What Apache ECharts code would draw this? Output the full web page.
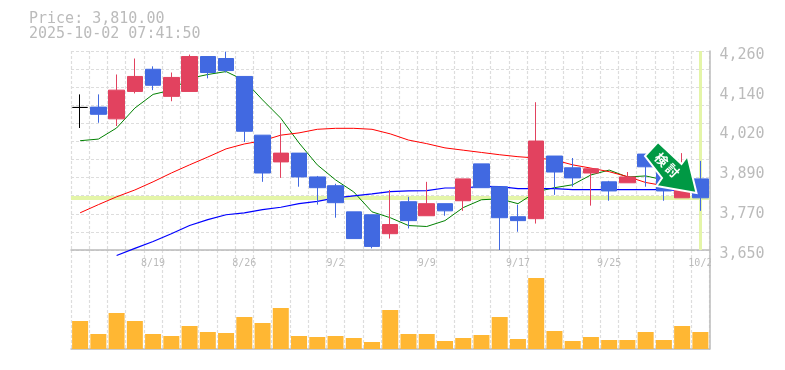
<!DOCTYPE html>
<html><head><meta charset="utf-8">
<style>html,body{margin:0;padding:0;background:#fff}#c{width:785px;height:370px}</style>
<script src="https://cdn.jsdelivr.net/npm/echarts@6/dist/echarts.min.js"></script>
</head><body><div id="c"></div>
<script>
const dates=['8/13','8/14','8/15','8/18','8/19','8/20','8/21','8/22','8/25','8/26','8/27','8/28','8/29','9/1','9/2','9/3','9/4','9/5','9/8','9/9','9/10','9/11','9/12','9/16','9/17','9/18','9/19','9/22','9/24','9/25','9/26','9/29','9/30','10/1','10/2'];
const shownDates=['8/19','8/26','9/2','9/9','9/17','9/25','10/2'];
const priceTickLabels=['3,650','3,770','3,890','4,020','4,140','4,260'];
const candles=[[4087,4087,4024,4127],[4088,4066,4040,4127],[4052,4140,4030,4188],[4136,4182,4130,4237],[4204,4155,4140,4213],[4121,4179,4106,4194],[4136,4243,4136,4249],[4243,4194,4176,4243],[4237,4200,4194,4258],[4182,4014,3981,4182],[4002,3886,3859,4002],[3920,3947,3871,4039],[3947,3874,3844,3947],[3874,3841,3789,3877],[3847,3795,3749,3853],[3767,3685,3685,3767],[3758,3661,3655,3758],[3700,3728,3685,3834],[3798,3740,3716,3813],[3755,3792,3755,3859],[3792,3770,3755,3792],[3801,3868,3770,3868],[3914,3841,3841,3914],[3844,3749,3650,3844],[3752,3740,3706,3789],[3746,3984,3731,4103],[3938,3889,3819,3938],[3902,3871,3844,3932],[3886,3899,3786,3899],[3859,3831,3801,3862],[3856,3874,3856,3889],[3944,3905,3844,3944],[3889,3831,3801,3895],[3810,3841,3810,3947],[3868,3810,3770,3923]];
const maShort=[3985,3990,4024,4085,4127,4140,4176,4188,4197,4170,4110,4054,3978,3911,3865,3828,3767,3749,3725,3722,3740,3780,3804,3807,3792,3828,3841,3850,3880,3895,3874,3877,3865,3856,3841];
const maMid=[3764,3789,3813,3834,3859,3886,3911,3935,3960,3975,3985,4002,4009,4020,4023,4023,4020,4006,3987,3976,3963,3956,3949,3942,3936,3932,3926,3911,3901,3890,3875,3857,3847,3838,3828];
const maLong=[null,null,3633,3655,3676,3700,3725,3743,3758,3764,3774,3781,3792,3799,3810,3816,3822,3829,3831,3832,3840,3840,3845,3844,3838,3838,3838,3835,3835,3835,3835,3835,3835,3832,3832];
const volumes=[28,15,36,28,15,13,23,17,16,32,26,41,13,12,13,11,7,39,15,15,8,11,14,32,10,71,18,8,12,9,9,17,9,23,17];
const lastPrice=3810, lastDate='10/2';
const priceText='Price: 3,810.00', timeText='2025-10-02 07:41:50', badgeChars=['検','討'];
const GREY='#bbbbbb', DASH='#dddddd', FONT='"DejaVu Sans Mono","Liberation Mono",monospace';
const chart=echarts.init(document.getElementById('c'),null,{renderer:'canvas'});
const L=71,W=638.5;
const dashLine={color:DASH,type:[3,2],width:1.2};
const dashed={show:true,interval:0,lineStyle:dashLine};
chart.setOption({
 animation:false,
 grid:[{left:L,top:51,width:W,height:199},{left:L,top:250,width:W,height:99}],
 xAxis:[
  {type:'category',gridIndex:0,data:dates,boundaryGap:true,position:'bottom',
   axisLine:{show:true,lineStyle:{color:GREY,width:1.5}},axisTick:{show:false},splitLine:dashed,
   axisLabel:{show:true,interval:0,margin:8,color:GREY,fontFamily:FONT,fontSize:10,hideOverlap:false,
     formatter:v=>shownDates.includes(v)?v:''}},
  {type:'category',gridIndex:1,data:dates,boundaryGap:true,
   axisLine:{show:true,lineStyle:{color:GREY,width:1.5}},axisTick:{show:false},splitLine:dashed,axisLabel:{show:false}}
 ],
 yAxis:[
  {type:'value',gridIndex:0,min:3650,max:4260,scale:true,axisLine:{show:false},axisTick:{show:false},axisLabel:{show:false},splitLine:{show:false}},
  {type:'value',gridIndex:0,position:'left',min:0,max:11,interval:1,axisLine:{show:false},axisTick:{show:false},axisLabel:{show:false},
   splitLine:{show:true,lineStyle:dashLine}},
  {type:'value',gridIndex:0,position:'right',min:0,max:5,interval:1,axisLine:{show:true,lineStyle:{color:GREY,width:1.5}},axisTick:{show:false},splitLine:{show:false},
   axisLabel:{margin:10,color:GREY,fontFamily:FONT,fontSize:15,verticalAlign:'top',lineHeight:8,formatter:(v)=>priceTickLabels[v]}},
  {type:'value',gridIndex:1,min:0,max:99,position:'right',axisLine:{show:true,lineStyle:{color:GREY,width:1.5}},axisTick:{show:false},axisLabel:{show:false},splitLine:{show:false}}
 ],
 series:[
  {type:'line',xAxisIndex:0,yAxisIndex:0,data:[],z:1,silent:true,
   markLine:{z:1,silent:true,symbol:'none',label:{show:false},animation:false,
    lineStyle:{color:'#e4f5a8',type:'solid'},
    data:[{yAxis:lastPrice,lineStyle:{width:4,color:'#e4f5a8',type:'solid'}},{xAxis:lastDate,lineStyle:{width:3,color:'#e4f5a8',type:'solid'}}]}},
  {name:'maShort',type:'line',xAxisIndex:0,yAxisIndex:0,data:maShort,showSymbol:false,z:2,clip:false,lineStyle:{color:'#008000',width:1}},
  {name:'maMid',type:'line',xAxisIndex:0,yAxisIndex:0,data:maMid,showSymbol:false,z:2,clip:false,lineStyle:{color:'#ff0000',width:1}},
  {name:'maLong',type:'line',xAxisIndex:0,yAxisIndex:0,data:maLong,showSymbol:false,z:2,clip:false,lineStyle:{color:'#0000ff',width:1.2}},
  {type:'candlestick',xAxisIndex:0,yAxisIndex:0,data:candles,barWidth:16,z:3,clip:false,
   itemStyle:{color:'#e2425f',color0:'#4169e1',borderColor:'#e2425f',borderColor0:'#4169e1',borderColorDoji:'#000000',borderWidth:1}},
  {type:'bar',xAxisIndex:1,yAxisIndex:3,data:volumes,barWidth:16,z:3,itemStyle:{color:'#ffb733'}}
 ],
 graphic:[
  {type:'rect',z:50,shape:{x:711,y:253,width:8,height:15},style:{fill:'#fff'}},
  {type:'text',z:51,left:29,top:12,style:{text:priceText,fill:GREY,font:'15px '+FONT}},
  {type:'text',z:51,left:29,top:27,style:{text:timeText,fill:GREY,font:'15px '+FONT}},
  {type:'polygon',z:60,shape:{points:[[658,142],[645,156],[662,178],[656.5,186],[696.5,193],[687.5,156],[681.5,164]]},
   style:{fill:'#009944',stroke:'#ffffff',lineWidth:2,lineJoin:'miter'}},
  {type:'text',z:61,x:661.5,y:159.5,rotation:-Math.PI/4,
   style:{text:badgeChars[0],fill:'#ffffff',font:'bold 13px "Noto Sans CJK JP"',align:'center',verticalAlign:'middle'}},
  {type:'text',z:61,x:672.5,y:170.5,rotation:-Math.PI/4,
   style:{text:badgeChars[1],fill:'#ffffff',font:'bold 13px "Noto Sans CJK JP"',align:'center',verticalAlign:'middle'}}
 ]
});
</script></body></html>
